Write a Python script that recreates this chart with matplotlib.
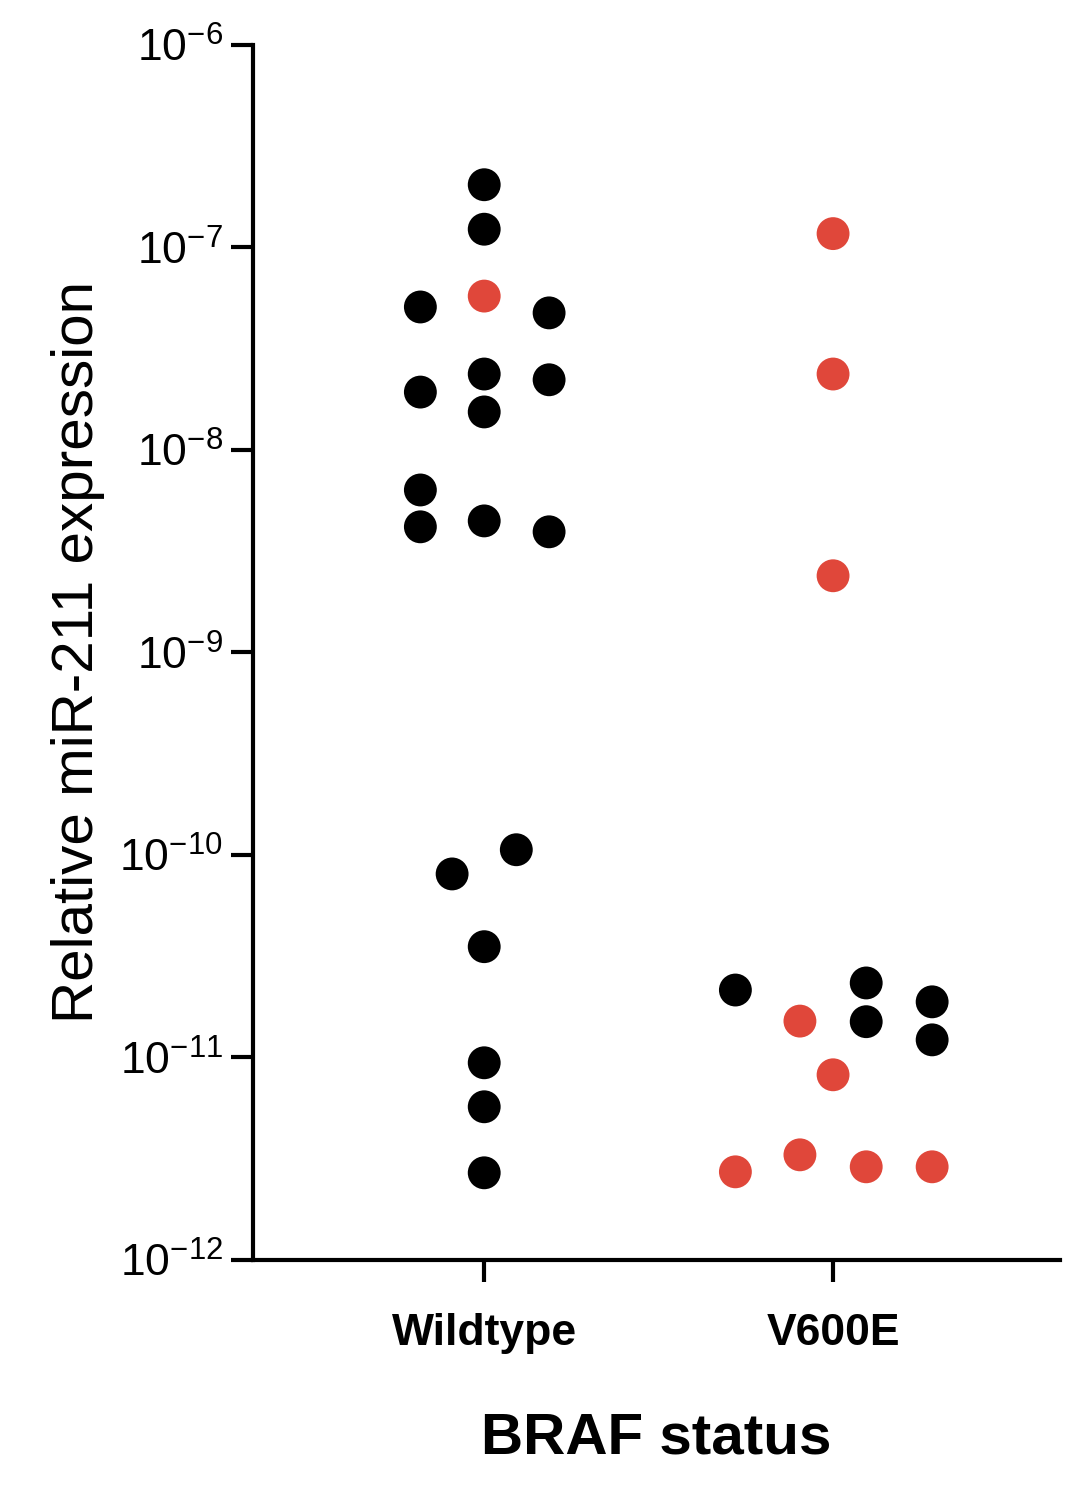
import matplotlib
matplotlib.use("Agg")
import matplotlib.pyplot as plt
import numpy as np

plt.rcParams['font.family'] = ['Liberation Sans', 'DejaVu Sans']
plt.rcParams['mathtext.fontset'] = 'custom'
plt.rcParams['mathtext.rm'] = 'Liberation Sans'
plt.rcParams['mathtext.it'] = 'Liberation Sans:italic'

categories = ["Wildtype", "V600E"]
wt_offsets = [0, 0, -0.183, 0, 0.186, -0.183, 0, 0.186, 0, -0.183, -0.183, 0, 0.186, -0.092, 0.092, 0, 0, 0, 0]
wt_values = [2.04e-7, 1.23e-7, 5.08e-8, 5.75e-8, 4.75e-8, 1.93e-8, 2.37e-8, 2.22e-8, 1.54e-8, 6.34e-9, 4.17e-9, 4.46e-9, 3.94e-9,
             8.05e-11, 1.06e-10, 3.52e-11, 9.4e-12, 5.7e-12, 2.69e-12]
wt_red = [0, 0, 0, 1, 0, 0, 0, 0, 0, 0, 0, 0, 0, 0, 0, 0, 0, 0, 0]
v6_offsets = [0, 0, 0, -0.28, 0.095, 0.284, 0.095, 0.284, -0.095, 0, -0.28, -0.095, 0.095, 0.284]
v6_values = [1.17e-7, 2.37e-8, 2.39e-9, 2.15e-11, 2.33e-11, 1.88e-11, 1.50e-11, 1.22e-11, 1.51e-11, 8.2e-12, 2.72e-12, 3.3e-12, 2.88e-12, 2.88e-12]
v6_red = [1, 1, 1, 0, 0, 0, 0, 0, 1, 1, 1, 1, 1, 1]

RED = "#e0473a"
fig = plt.figure(figsize=(10.87, 14.98), dpi=100)
ax = fig.add_axes([0.233, 0.159, 0.742, 0.811])
for i, (offs, vals, reds) in enumerate([(wt_offsets, wt_values, wt_red), (v6_offsets, v6_values, v6_red)]):
    xs = np.array(offs) + i
    cols = [RED if r else "black" for r in reds]
    ax.scatter(xs, vals, s=560, c=cols, linewidths=0, zorder=3, clip_on=False)

ax.set_yscale("log")
ax.set_ylim(1e-12, 1e-6)
ax.set_xlim(-0.662, 1.65)
ax.set_yticks([10.0**k for k in range(-12, -5)])
ax.yaxis.set_minor_locator(matplotlib.ticker.NullLocator())
ax.set_xticks([0, 1])
ax.set_xticklabels(categories, fontsize=44, fontweight="bold")
for s in ["top", "right"]:
    ax.spines[s].set_visible(False)
for s in ["left", "bottom"]:
    ax.spines[s].set_linewidth(3)
ax.tick_params(axis="both", width=3, length=16, labelsize=32)
ax.tick_params(axis="y", pad=6)
ax.tick_params(axis="x", pad=22)
ax.set_ylabel("Relative miR-211 expression", fontsize=42, labelpad=10)
ax.set_xlabel("BRAF status", fontsize=42, fontweight="bold", labelpad=42)
fig.savefig("out.png", dpi=100)
